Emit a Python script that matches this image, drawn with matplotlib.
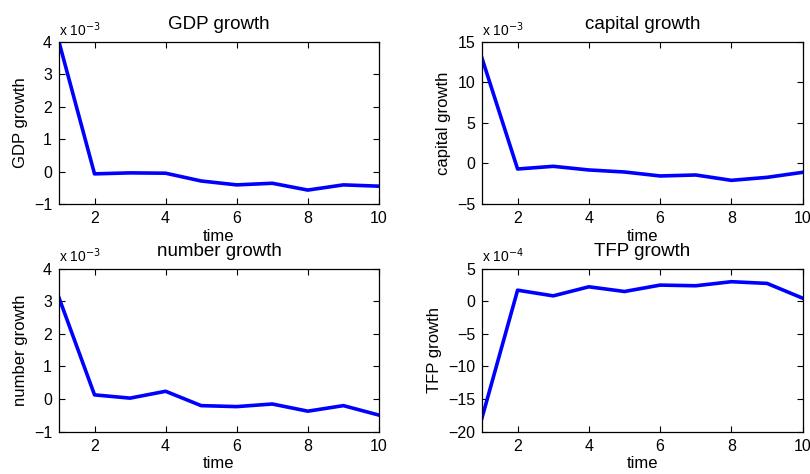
import numpy as np
import matplotlib
matplotlib.use("Agg")
import matplotlib.pyplot as plt

plt.rcParams['font.family'] = ['Liberation Sans', 'DejaVu Sans']

# impulse responses, 10 periods
time = np.arange(1, 11)

gdp = np.array([4.0, -0.07, -0.04, -0.05, -0.29, -0.41, -0.36, -0.57, -0.41, -0.45]) * 1e-3
capital = np.array([13.0, -0.68, -0.35, -0.80, -1.05, -1.54, -1.42, -2.08, -1.71, -1.09]) * 1e-3
number = np.array([3.11, 0.13, 0.03, 0.24, -0.20, -0.23, -0.15, -0.37, -0.20, -0.49]) * 1e-3
tfp = np.array([-17.9, 1.7, 0.83, 2.22, 1.5, 2.48, 2.38, 3.0, 2.74, 0.47]) * 1e-4

panels = [
    ("GDP growth", gdp, -3, (-1, 4), [-1, 0, 1, 2, 3, 4]),
    ("capital growth", capital, -3, (-5, 15), [-5, 0, 5, 10, 15]),
    ("number growth", number, -3, (-1, 4), [-1, 0, 1, 2, 3, 4]),
    ("TFP growth", tfp, -4, (-20, 5), [-20, -15, -10, -5, 0, 5]),
]

# axes rectangles in figure fractions
rects = [
    [0.0728, 0.5696, 0.395, 0.342],
    [0.595, 0.5696, 0.396, 0.342],
    [0.0728, 0.0892, 0.395, 0.344],
    [0.595, 0.0892, 0.396, 0.344],
]

fig = plt.figure(figsize=(8.1, 4.74), dpi=100)

for (name, vals, expo, ylim, yticks), rect in zip(panels, rects):
    ax = fig.add_axes(rect)
    ax.plot(time, vals / 10.0**expo, color=(0, 0, 1), lw=2.6)
    ax.set_xlim(1, 10)
    ax.set_ylim(*ylim)
    ax.set_xticks([2, 4, 6, 8, 10])
    ax.set_yticks(yticks)
    ax.set_yticklabels([str(t).replace('-', '\u2212') for t in yticks])
    ax.tick_params(direction='in', top=True, right=True, length=4,
                   width=0.8, labelsize=11.5, pad=5)
    for s in ax.spines.values():
        s.set_linewidth(0.9)
    ax.set_title(name, fontsize=13.5, pad=9)
    ax.set_xlabel("time", fontsize=12, labelpad=2)
    ax.set_ylabel(name, fontsize=12, labelpad=4)
    ax.text(0.0, 1.02, r"x 10$^{%d}$" % expo, transform=ax.transAxes,
            ha='left', va='bottom', fontsize=10)

fig.savefig("out.png", dpi=100)
